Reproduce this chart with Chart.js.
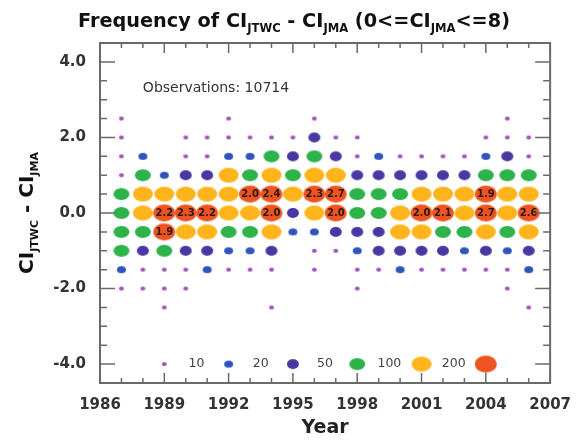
<!DOCTYPE html>
<html>
<head>
<meta charset="utf-8">
<script src="https://cdn.jsdelivr.net/npm/chart.js@4.4.1/dist/chart.umd.min.js"></script>
<style>
  html, body { margin: 0; background: #fff; }
  #wrap { width: 576px; height: 441px; }
</style>
</head>
<body>
<div id="wrap"><canvas id="freq"></canvas></div>
<script>
// years on the x axis
const years = [1987, 1988, 1989, 1990, 1991, 1992, 1993, 1994, 1995, 1996,
               1997, 1998, 1999, 2000, 2001, 2002, 2003, 2004, 2005, 2006];
// CI differences (rows), top to bottom
const levels = [2.5, 2.0, 1.5, 1.0, 0.5, 0.0, -0.5, -1.0, -1.5, -2.0, -2.5];
// frequency class per row/year: 0 none, 1 =10, 2 =20, 3 =50, 4 =100, 5 =200, 6 >200
const classGrid = [
  [1,0,0,0,0,1,0,0,0,1, 0,0,0,0,0,0,0,0,1,0],
  [1,0,0,1,1,1,1,1,1,3, 1,1,0,0,0,0,0,1,1,1],
  [1,2,0,1,1,2,2,4,3,4, 3,1,2,1,1,1,1,2,3,1],
  [1,4,2,3,3,5,4,5,4,5, 5,3,3,3,3,3,3,4,4,4],
  [4,5,5,5,5,5,6,6,5,6, 6,4,4,4,5,5,5,6,5,5],
  [4,5,6,6,6,5,5,6,3,5, 6,4,4,5,6,6,5,6,5,6],
  [4,4,6,5,5,4,4,5,2,2, 3,3,3,5,5,4,4,5,4,5],
  [4,3,4,3,3,2,2,3,0,1, 1,2,3,3,3,3,2,3,2,3],
  [2,1,1,1,2,1,1,1,0,1, 0,1,1,2,1,1,1,1,1,2],
  [1,1,1,1,0,0,0,0,0,0, 0,1,0,0,0,0,0,0,1,0],
  [0,0,1,0,0,0,0,1,0,0, 0,0,0,0,0,0,0,0,0,1]
];
// numbers printed on the largest bubbles: [year, level, text]
const bigLabels = [
  [1993, 0.5, '2.0'], [1994, 0.5, '2.4'], [1996, 0.5, '2.3'], [1997, 0.5, '2.7'], [2004, 0.5, '1.9'],
  [1989, 0.0, '2.2'], [1990, 0.0, '2.3'], [1991, 0.0, '2.2'], [1994, 0.0, '2.0'], [1997, 0.0, '2.0'],
  [2001, 0.0, '2.0'], [2002, 0.0, '2.1'], [2004, 0.0, '2.7'], [2006, 0.0, '2.6'],
  [1989, -0.5, '1.9']
];
const classNames = ['10', '20', '50', '100', '200', ''];
const classColors = ['#a050c0', '#2f55b8', '#4a37a3', '#2db34a', '#ffb41c', '#ee5420'];
const legendYears = [1989, 1992, 1995, 1998, 2001, 2004];
const legendLevel = -4.0;
const observations = 'Observations: 10714';

const FONT = "'DejaVu Sans', Arial, sans-serif";

// ellipse images used as point styles
const blobSizes = [[5, 4], [9, 7], [12, 10], [16, 12], [20, 15], [22, 17]];
function blob(w, h, color) {
  const c = document.createElement('canvas');
  c.width = w + 2; c.height = h + 2;
  const g = c.getContext('2d');
  g.fillStyle = color;
  g.beginPath();
  g.ellipse(c.width / 2, c.height / 2, w / 2, h / 2, 0, 0, Math.PI * 2);
  g.fill();
  return c;
}

const datasets = classNames.map((name, k) => {
  const pts = [];
  classGrid.forEach((row, r) => {
    row.forEach((v, i) => {
      if (v === k + 1) pts.push({ x: years[i], y: levels[r], r: 4 });
    });
  });
  pts.push({ x: legendYears[k], y: legendLevel, r: 4 });
  return {
    label: name,
    data: pts,
    pointStyle: blob(blobSizes[k][0], blobSizes[k][1], classColors[k]),
    backgroundColor: classColors[k],
    borderWidth: 0
  };
});

function drawSubText(ctx, parts, big, small, drop) {
  let x = 0;
  parts.forEach(([t, sub]) => {
    ctx.font = 'bold ' + (sub ? small : big) + 'px ' + FONT;
    ctx.fillText(t, x, sub ? drop : 0);
    x += ctx.measureText(t).width;
  });
  return x;
}
function measureSubText(ctx, parts, big, small) {
  let w = 0;
  parts.forEach(([t, sub]) => {
    ctx.font = 'bold ' + (sub ? small : big) + 'px ' + FONT;
    w += ctx.measureText(t).width;
  });
  return w;
}

const decor = {
  id: 'decor',
  afterDatasetsDraw(chart) {
    const ctx = chart.ctx, xs = chart.scales.x, ys = chart.scales.y;
    ctx.save();
    ctx.fillStyle = '#2a1a10';
    ctx.font = 'bold 10px ' + FONT;
    ctx.textAlign = 'center';
    ctx.textBaseline = 'middle';
    bigLabels.forEach(([yr, lv, t]) => {
      ctx.fillText(t, xs.getPixelForValue(yr), ys.getPixelForValue(lv) + 0.5);
    });
    ctx.restore();
  },
  afterDraw(chart) {
    const ctx = chart.ctx, a = chart.chartArea, xs = chart.scales.x, ys = chart.scales.y;
    ctx.save();
    // frame
    ctx.strokeStyle = '#6a6a6a';
    ctx.lineWidth = 2;
    ctx.strokeRect(a.left, a.top, a.right - a.left, a.bottom - a.top);
    // inward ticks
    ctx.lineWidth = 1.5;
    ctx.beginPath();
    for (let yr = 1986; yr <= 2007; yr++) {
      const px = xs.getPixelForValue(yr);
      const len = (yr - 1986) % 3 === 0 ? 10 : 5;
      ctx.moveTo(px, a.bottom); ctx.lineTo(px, a.bottom - len);
      ctx.moveTo(px, a.top); ctx.lineTo(px, a.top + len);
    }
    for (let v = -4.5; v <= 4.5; v += 0.5) {
      const py = ys.getPixelForValue(v);
      const len = Math.abs(v % 2) < 1e-9 ? 15 : 7;
      ctx.moveTo(a.left, py); ctx.lineTo(a.left + len, py);
      ctx.moveTo(a.right, py); ctx.lineTo(a.right - len, py);
    }
    ctx.stroke();

    // title with subscripts
    ctx.fillStyle = '#111';
    ctx.textBaseline = 'alphabetic';
    ctx.textAlign = 'left';
    const titleParts = [['Frequency of CI', false], ['JTWC', true], [' - CI', false], ['JMA', true],
                        [' (0<=CI', false], ['JMA', true], ['<=8)', false]];
    const tw = measureSubText(ctx, titleParts, 20, 12);
    ctx.save();
    ctx.translate(78, 27);
    ctx.scale(432 / tw, 1);
    drawSubText(ctx, titleParts, 20, 12, 5);
    ctx.restore();

    // y axis title
    const yParts = [['CI', false], ['JTWC', true], [' - CI', false], ['JMA', true]];
    const yw = measureSubText(ctx, yParts, 20, 11);
    ctx.save();
    ctx.translate(33, (a.top + a.bottom) / 2 + yw / 2);
    ctx.rotate(-Math.PI / 2);
    drawSubText(ctx, yParts, 20, 11, 5);
    ctx.restore();

    // observations note
    ctx.fillStyle = '#333';
    ctx.font = '14px ' + FONT;
    ctx.textBaseline = 'middle';
    ctx.fillText(observations, xs.getPixelForValue(1988), ys.getPixelForValue(3.3));

    // legend labels
    ctx.fillStyle = '#444';
    ctx.font = '12.5px ' + FONT;
    ctx.textAlign = 'center';
    classNames.forEach((n, k) => {
      if (n) ctx.fillText(n, xs.getPixelForValue(legendYears[k] + 1.5), ys.getPixelForValue(legendLevel));
    });
    ctx.restore();
  }
};

new Chart(document.getElementById('freq'), {
  type: 'bubble',
  data: { datasets: datasets },
  options: {
    responsive: true,
    maintainAspectRatio: false,
    animation: false,
    layout: { padding: { top: 43, right: 24, left: 0, bottom: 0 } },
    plugins: { legend: { display: false }, tooltip: { enabled: false } },
    scales: {
      x: {
        type: 'linear',
        min: 1986,
        max: 2007,
        grid: { display: false },
        border: { display: false },
        ticks: {
          stepSize: 1,
          autoSkip: false,
          maxRotation: 0,
          padding: 5,
          color: '#333',
          font: { family: FONT, size: 15, weight: 'bold' },
          callback: v => ((v - 1986) % 3 === 0 ? String(v) : '')
        },
        title: {
          display: true,
          text: 'Year',
          color: '#222',
          font: { family: FONT, size: 19, weight: 'bold' },
          padding: { top: 0, bottom: 2 }
        },
        afterFit: s => { s.height = 58; }
      },
      y: {
        min: -4.5,
        max: 4.5,
        grid: { display: false },
        border: { display: false },
        ticks: {
          stepSize: 0.5,
          autoSkip: false,
          padding: 6,
          color: '#333',
          font: { family: FONT, size: 15, weight: 'bold' },
          callback: v => (Math.abs(v % 2) < 1e-9 ? v.toFixed(1) : '')
        },
        afterFit: s => { s.width = 100; }
      }
    }
  },
  plugins: [decor]
});
</script>
</body>
</html>
